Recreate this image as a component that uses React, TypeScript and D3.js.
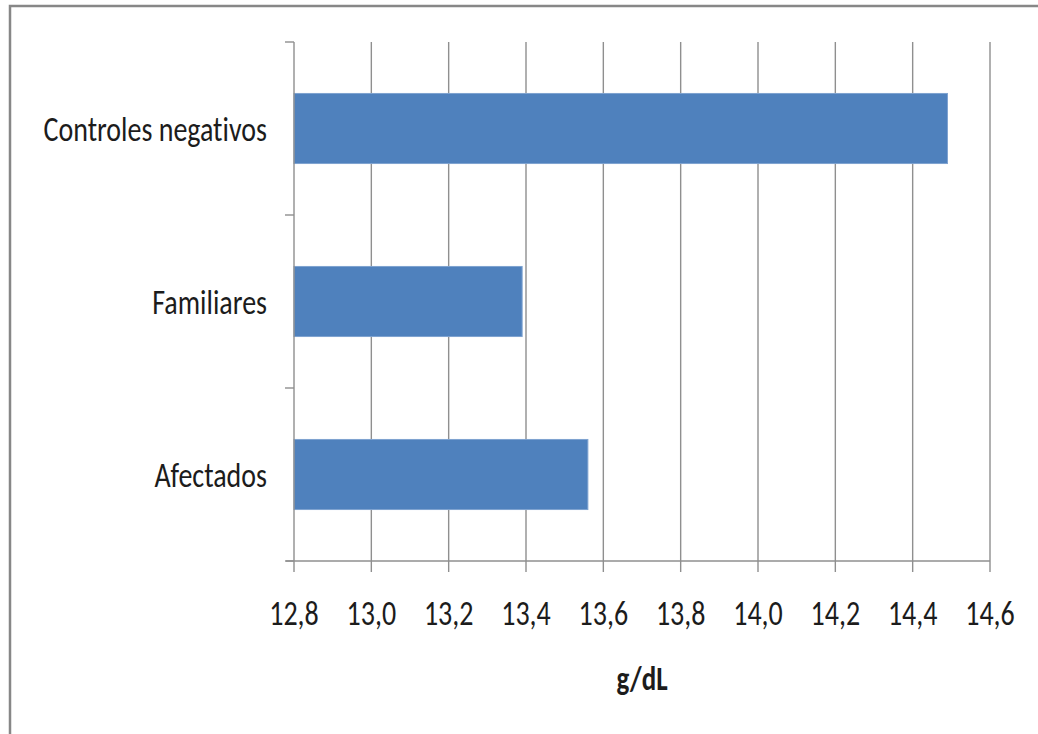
import React from 'react';
import * as d3 from 'd3';

// Hemoglobin means per group (g/dL)
const categories: string[] = ['Controles negativos', 'Familiares', 'Afectados'];
const values: number[] = [14.49, 13.39, 13.56];
const xTicks: number[] = [12.8, 13.0, 13.2, 13.4, 13.6, 13.8, 14.0, 14.2, 14.4, 14.6];
const axisTitle = 'g/dL';

const W = 1038;
const H = 734;
const plot = { left: 294, right: 990, top: 42, bottom: 561 };
const FONT = 'Carlito, Lato, "Open Sans", sans-serif';
const TEXT_SCALE_Y = 1.24;
const GRID = '#8f8f8f';

const esLocale = d3.formatLocale({
  decimal: ',',
  thousands: '.',
  grouping: [3],
  currency: ['', ' €'],
});
const fmt = esLocale.format('.1f');

function Label(props: {
  x: number;
  y: number;
  anchor: 'start' | 'middle' | 'end';
  size: number;
  bold?: boolean;
  children: React.ReactNode;
}) {
  const { x, y, anchor, size, bold, children } = props;
  return (
    <text
      transform={`translate(${x},${y}) scale(1,${TEXT_SCALE_Y})`}
      textAnchor={anchor}
      fontFamily={FONT}
      fontSize={size}
      fontWeight={bold ? 700 : 400}
      fill="#1c1c1c"
      style={{ fontVariantLigatures: 'none', fontFeatureSettings: '"liga" 0, "clig" 0' }}
    >
      {children}
    </text>
  );
}

export default function App() {
  const x = d3.scaleLinear().domain([xTicks[0], xTicks[xTicks.length - 1]]).range([plot.left, plot.right]);
  const y = d3
    .scaleBand<string>()
    .domain(categories)
    .range([plot.top, plot.bottom])
    .paddingInner(0.595)
    .paddingOuter(0.2975);

  const step = y.step();
  const catTicks = d3.range(categories.length + 1).map((i) => plot.top + i * step);

  return (
    <svg
      width={W}
      height={H}
      viewBox={`0 0 ${W} ${H}`}
      style={{ position: 'absolute', left: 0, top: 0, background: '#fff' }}
    >
      {/* chart frame */}
      <rect x={10} y={6} width={W + 20} height={H + 20} fill="#fff" stroke="#878787" strokeWidth={2.5} />

      {/* vertical gridlines */}
      {xTicks.slice(1).map((t) => (
        <line key={`g${t}`} x1={x(t)} x2={x(t)} y1={plot.top} y2={plot.bottom} stroke={GRID} strokeWidth={1.4} />
      ))}

      {/* bars */}
      {categories.map((c, i) => (
        <rect
          key={c}
          x={x(xTicks[0])}
          y={y(c)}
          width={x(values[i]) - x(xTicks[0])}
          height={y.bandwidth()}
          fill="#4F81BD"
          stroke="#7ea3d0"
          strokeWidth={1}
        />
      ))}

      {/* category axis */}
      <line x1={plot.left} x2={plot.left} y1={plot.top} y2={plot.bottom} stroke={GRID} strokeWidth={1.4} />
      {catTicks.map((t, i) => (
        <line key={`ct${i}`} x1={plot.left - 9} x2={plot.left} y1={t} y2={t} stroke={GRID} strokeWidth={1.4} />
      ))}
      {categories.map((c) => (
        <Label key={`cl${c}`} x={267} y={(y(c) as number) + y.bandwidth() / 2 + 12} anchor="end" size={28}>
          {c}
        </Label>
      ))}

      {/* value axis */}
      <line x1={plot.left - 8} x2={plot.right} y1={plot.bottom} y2={plot.bottom} stroke={GRID} strokeWidth={1.4} />
      {xTicks.map((t) => (
        <line key={`xt${t}`} x1={x(t)} x2={x(t)} y1={plot.bottom} y2={plot.bottom + 11} stroke={GRID} strokeWidth={1.4} />
      ))}
      {xTicks.map((t) => (
        <Label key={`xl${t}`} x={x(t)} y={625} anchor="middle" size={28}>
          {fmt(t)}
        </Label>
      ))}

      <Label x={(plot.left + plot.right) / 2} y={690} anchor="middle" size={27} bold>
        {axisTitle}
      </Label>
    </svg>
  );
}
